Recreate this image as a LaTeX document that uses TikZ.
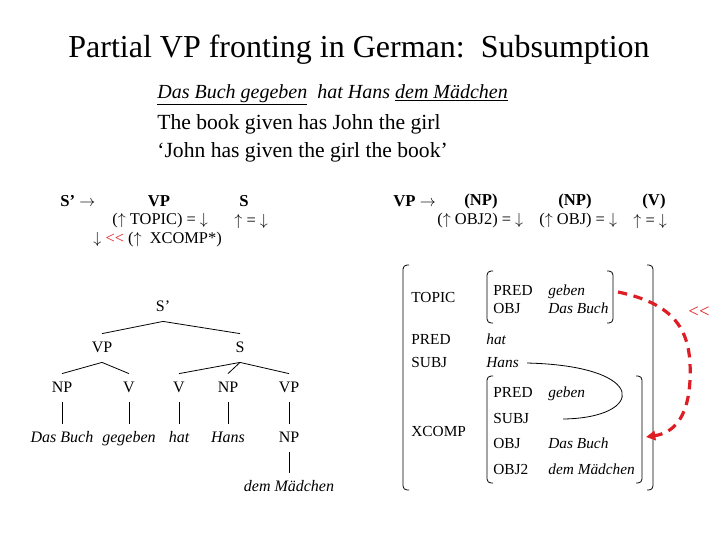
\documentclass[tikz,border=0pt]{standalone}
\usepackage{fontspec}
\setmainfont{Liberation Serif}
\usetikzlibrary{arrows.meta}
\definecolor{lessred}{RGB}{222,30,36}

\tikzset{
  title/.style={font=\fontsize{24}{28}\selectfont},
  sent/.style={anchor=west, inner sep=0pt, font=\fontsize{16.2}{18}\selectfont},
  rulehead/.style={inner sep=0pt, font=\fontsize{12.5}{15}\selectfont\bfseries},
  ruleann/.style={anchor=west, inner sep=0pt, font=\fontsize{12.3}{14}\selectfont},
  cat/.style={inner xsep=2pt, inner ysep=5.5pt, text height=8pt, text depth=2pt,
    font=\fontsize{12}{14}\selectfont},
  word/.style={cat, font=\fontsize{12}{14}\selectfont\itshape},
  attr/.style={anchor=west, inner sep=0pt, text height=8pt, text depth=2pt,
    font=\fontsize{11.5}{14}\selectfont},
  val/.style={attr, font=\fontsize{11.5}{14}\selectfont\itshape},
  precarrow/.style={lessred, line width=2.4pt, dash pattern=on 7pt off 5pt, -{Triangle[length=7pt,width=7pt]}},
}

% AVM bracket pair: left x, top y, right x, bottom y
\newcommand\avmbox[4]{%
  \draw[rounded corners=3pt] (#1+6,#2) -- (#1,#2) -- (#1,#4) -- (#1+6,#4);
  \draw[rounded corners=3pt] (#3-6,#2) -- (#3,#2) -- (#3,#4) -- (#3-6,#4);}
\newcommand\fprec{{<}{<}}

\begin{document}
\begin{tikzpicture}[x=0.75pt,y=-0.75pt,line width=0.6pt]
    \useasboundingbox (0,0) rectangle (720,540);

    % Title
    \node[title] (ttl) at (359,50) {Partial VP fronting in German:\ \ Subsumption};

    % Example sentence
    \node[sent, font=\fontsize{15}{18}\selectfont\itshape] (ger) at (157,95)
      {\underline{Das Buch gegeben}\ \ hat Hans \underline{dem Mädchen}};
    \node[sent] (gloss) at (157,124) {The book given has John the girl};
    \node[sent] (trans) at (157,152) {‘John has given the girl the book’};

    % Rule for S'
    \node[rulehead, anchor=west] (rS) at (60,201) {S’ $\rightarrow$};
    \node[rulehead] (rSvp) at (159,201) {VP};
    \node[rulehead] (rSs) at (244,201) {S};
    \node[ruleann] (rSa1) at (112,221) {($\uparrow$ TOPIC) = $\downarrow$};
    \node[ruleann] (rSa2) at (234,221) {$\uparrow$ = $\downarrow$};
    \node[ruleann] (rSa3) at (93,240) {$\downarrow$ {\color{lessred}\fprec} ($\uparrow$\ \ XCOMP*)};

    % Rule for VP
    \node[rulehead, anchor=west] (rV) at (393,201) {VP $\rightarrow$};
    \node[rulehead] (rVnp1) at (481,201) {(NP)};
    \node[rulehead] (rVnp2) at (575,201) {(NP)};
    \node[rulehead] (rVv) at (654,201) {(V)};
    \node[ruleann] (rVa1) at (437,221) {($\uparrow$ OBJ2) = $\downarrow$};
    \node[ruleann] (rVa2) at (539,221) {($\uparrow$ OBJ) = $\downarrow$};
    \node[ruleann] (rVa3) at (633,221) {$\uparrow$ = $\downarrow$};

    % c-structure tree
    \node[cat] (Sp) at (163,307) {S’};
    \node[cat] (VPa) at (102,348) {VP};
    \node[cat] (Sa) at (240,348) {S};
    \node[cat] (NPa) at (62,388) {NP};
    \node[cat] (Va) at (129,388) {V};
    \node[cat] (Vb) at (179,388) {V};
    \node[cat] (NPb) at (228,388) {NP};
    \node[cat] (VPb) at (289,388) {VP};
    \node[word] (wBuch) at (62,438) {Das Buch};
    \node[word] (wGeg) at (129,438) {gegeben};
    \node[word] (wHat) at (179,438) {hat};
    \node[word] (wHans) at (228,438) {Hans};
    \node[cat] (NPc) at (289,438) {NP};
    \node[word] (wMaed) at (289,487) {dem Mädchen};

    \foreach \a/\b in {Sp/VPa, Sp/Sa, VPa/NPa, VPa/Va, Sa/Vb, Sa/NPb, Sa/VPb,
                       NPa/wBuch, Va/wGeg, Vb/wHat, NPb/wHans, VPb/NPc, NPc/wMaed}
      \draw (\a.south) -- (\b.north);

    % f-structure
    \avmbox{403}{265}{653}{490}
    \avmbox{487}{271}{613}{323}
    \avmbox{487}{376}{642}{483}

    \node[attr] (fTopic) at (411,298) {TOPIC};
    \node[attr] (fTpred) at (493,291) {PRED};
    \node[val]  (fTgeb) at (548,291) {geben};
    \node[attr] (fTobj) at (493,309) {OBJ};
    \node[val]  (fTbuch) at (548,309) {Das Buch};
    \node[attr] (fPred) at (411,340) {PRED};
    \node[val]  (fHat) at (486,340) {hat};
    \node[attr] (fSubj) at (411,363) {SUBJ};
    \node[val]  (fHans) at (486,363) {Hans};
    \node[attr] (fXcomp) at (411,432) {XCOMP};
    \node[attr] (fXpred) at (493,393) {PRED};
    \node[val]  (fXgeb) at (548,393) {geben};
    \node[attr] (fXsubj) at (493,419) {SUBJ};
    \node[attr] (fXobj) at (493,444) {OBJ};
    \node[val]  (fXbuch) at (548,444) {Das Buch};
    \node[attr] (fXobj2) at (493,470) {OBJ2};
    \node[val]  (fXmaed) at (548,470) {dem Mädchen};

    % structure sharing of the subject
    \coordinate (shareEnd) at (563,419);
    \draw ([xshift=6pt]fHans.east) .. controls (650,366) and (645,418) .. (shareEnd);

    % subsumption arrow
    \coordinate (topR) at (618,292);
    \coordinate (xcR) at (646,437);
    \draw[precarrow] (topR) .. controls (680,305) and (692,335) .. (690,380)
                     .. controls (688,420) and (672,433) .. (xcR);
    \node[font=\fontsize{14}{16}\selectfont, text=lessred, inner sep=0pt] (lss) at (699,312) {\fprec};
\end{tikzpicture}
\end{document}
